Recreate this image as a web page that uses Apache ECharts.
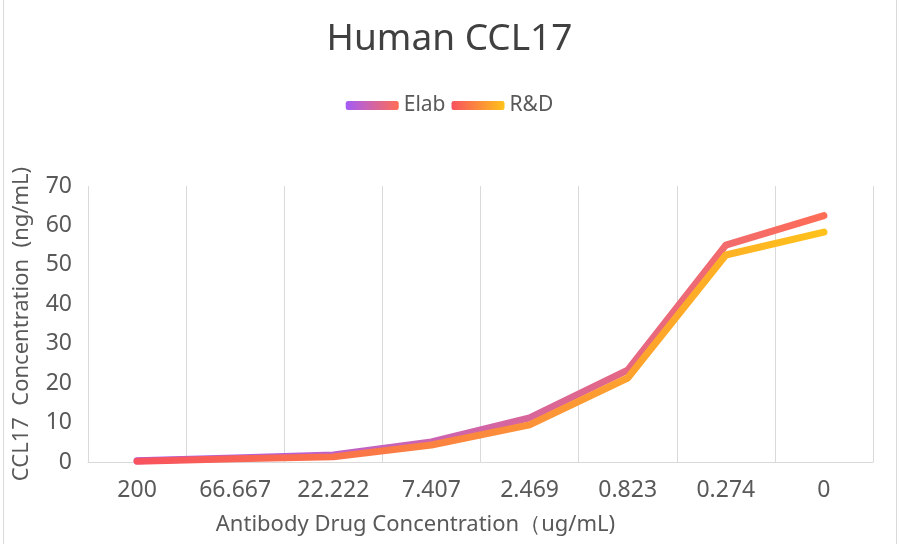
<!DOCTYPE html>
<html>
<head>
<meta charset="utf-8">
<script src="https://cdn.jsdelivr.net/npm/echarts@6/dist/echarts.min.js"></script>
<style>
  html, body { margin: 0; padding: 0; background: #fff; }
  #main { width: 899px; height: 544px; }
</style>
</head>
<body>
<div id="main"></div>
<script>
// data
var categories = ['200', '66.667', '22.222', '7.407', '2.469', '0.823', '0.274', '0'];
var elabValues = [0.3, 1.0, 1.8, 5.1, 11.2, 23.3, 55.0, 62.5];
var rndValues = [0.2, 0.8, 1.3, 4.3, 9.4, 21.3, 52.5, 58.3];

var font = 'Noto Sans';
var textColor = '#595959';

var dom = document.getElementById('main');
var myChart = echarts.init(dom, null, { renderer: 'canvas' });

function grad(c1, c2) {
  return new echarts.graphic.LinearGradient(0, 0, 1, 0, [
    { offset: 0, color: c1 },
    { offset: 1, color: c2 }
  ]);
}

var option = {
  animation: false,
  title: {
    text: 'Human CCL17',
    left: 'center',
    top: 16,
    textStyle: { fontFamily: font, fontSize: 37, fontWeight: 'normal', color: '#404040' }
  },
  legend: {
    top: 90,
    left: 'center',
    icon: 'roundRect',
    itemWidth: 53,
    itemHeight: 9,
    itemGap: 6,
    textStyle: { fontFamily: font, fontSize: 21, color: textColor },
    data: ['Elab', 'R&D']
  },
  graphic: [{
    type: 'rect',
    shape: { x: 3.5, y: -2, width: 893, height: 548 },
    style: { fill: 'none', stroke: '#d9d9d9', lineWidth: 1 },
    silent: true
  }],
  grid: { left: 88, right: 26, top: 186, bottom: 82 },
  xAxis: {
    type: 'category',
    data: categories,
    boundaryGap: true,
    name: 'Antibody Drug Concentration（ug/mL)',
    nameLocation: 'middle',
    nameGap: 52,
    nameTextStyle: { fontFamily: font, fontSize: 22, color: textColor, padding: [0, 130, 0, 0] },
    axisLine: { lineStyle: { color: '#d9d9d9', width: 1 } },
    axisTick: { show: false },
    axisLabel: { fontFamily: font, fontSize: 23, color: textColor, margin: 17 },
    splitLine: { show: true, lineStyle: { color: '#d9d9d9', width: 1 } }
  },
  yAxis: {
    type: 'value',
    min: 0,
    max: 70,
    interval: 10,
    name: 'CCL17  Concentration  (ng/mL)',
    nameLocation: 'middle',
    nameGap: 55,
    nameTextStyle: { fontFamily: font, fontSize: 22, color: textColor },
    axisLine: { show: false },
    axisTick: { show: false },
    axisLabel: { fontFamily: font, fontSize: 23, color: textColor, margin: 16 },
    splitLine: { show: false }
  },
  series: [
    {
      name: 'Elab',
      type: 'line',
      data: elabValues,
      showSymbol: false,
      symbol: 'none',
      color: grad('#a45cf6', '#ff6d55'),
      lineStyle: { width: 7, cap: 'round', join: 'round', color: grad('#a45cf6', '#ff6d55') }
    },
    {
      name: 'R&D',
      type: 'line',
      data: rndValues,
      showSymbol: false,
      symbol: 'none',
      color: grad('#f8525f', '#ffc21a'),
      lineStyle: { width: 7, cap: 'round', join: 'round', color: grad('#f8525f', '#ffc21a') }
    }
  ]
};

myChart.setOption(option);
window.addEventListener('resize', myChart.resize);
</script>
</body>
</html>
